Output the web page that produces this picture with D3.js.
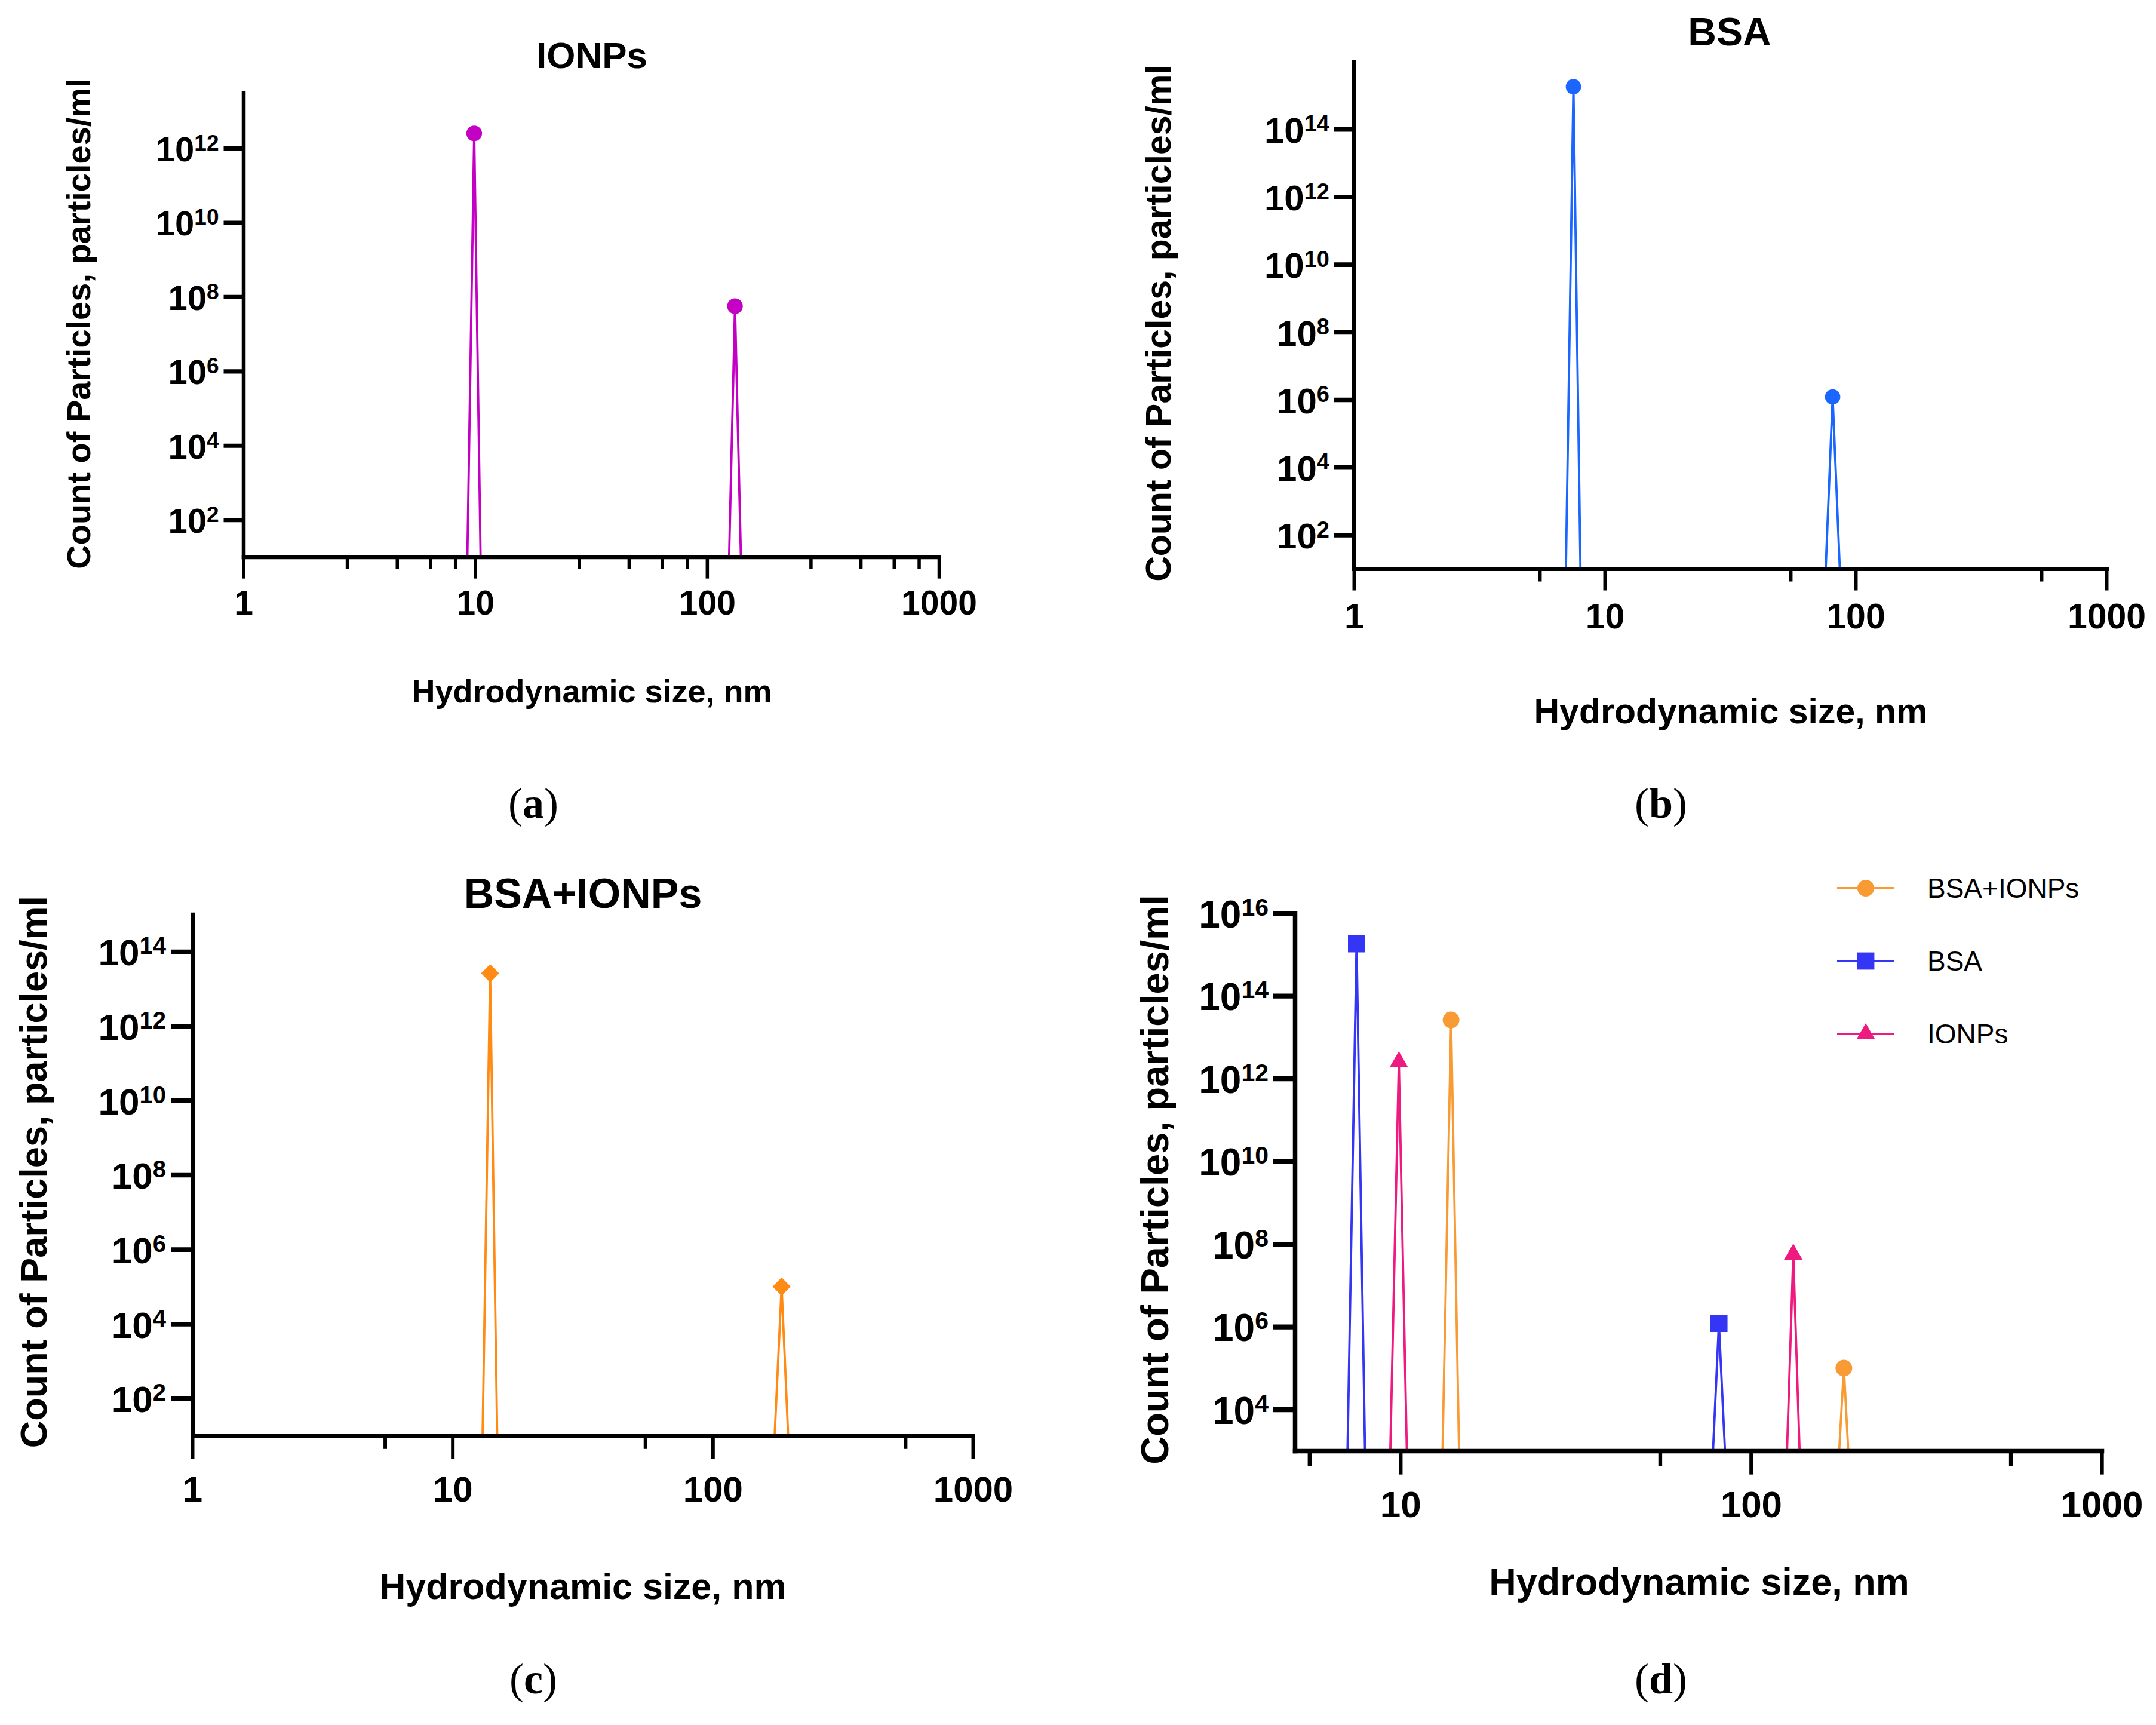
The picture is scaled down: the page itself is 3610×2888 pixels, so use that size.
<!DOCTYPE html>
<html><head><meta charset="utf-8">
<script src="https://cdn.jsdelivr.net/npm/d3@7"></script>
<style>body{margin:0;background:#fff} svg{display:block}</style>
</head><body>
<svg id="chart" width="3610" height="2888"></svg>
<script>
// ---------------- data ----------------
const ionpsSize  = [9.25, 9.9, 10.55, 124.5, 132, 140];
const ionpsCount = [10, 2.5e12, 10, 10, 5.6e7, 10];
const bsaSize    = [7.0, 7.5, 8.0, 76, 81, 86.5];
const bsaCount   = [10, 1.8e15, 10, 10, 1.2e6, 10];
const mixSize    = [13.05, 13.95, 14.85, 173, 184, 195];
const mixCount   = [10, 2.6e13, 10, 10, 1.0e5, 10];

const xMajorABC = [1, 10, 100, 1000];
const xMajorD   = [10, 100, 1000];
const xMinorA   = [2.8, 4.6, 6.4, 8.2, 28, 46, 64, 82, 280, 460, 640, 820];
const xMinorBCD = [5.5, 55, 550];
const yExpA = [2, 4, 6, 8, 10, 12];
const yExpBC = [2, 4, 6, 8, 10, 12, 14];
const yExpD = [4, 6, 8, 10, 12, 14, 16];

const titles = ["IONPs", "BSA", "BSA+IONPs", ""];
const panelLetters = ["a", "b", "c", "d"];
const xTitle = "Hydrodynamic size, nm";
const yTitle = "Count of Particles, particles/ml";
const legendLabels = ["BSA+IONPs", "BSA", "IONPs"];

// ---------------- drawing ----------------
const svg = d3.select("#chart");
svg.append("rect").attr("width", 3610).attr("height", 2888).attr("fill", "#fff");
const SANS = "'Liberation Sans', Arial, Helvetica, sans-serif";
const SERIF = "'Liberation Serif', 'Times New Roman', serif";

const zip = (xs, ys) => xs.map((x, i) => ({x, y: ys[i]}));

const diamond = {draw(ctx, size) { const r = Math.sqrt(size / 2); ctx.moveTo(0, -r); ctx.lineTo(r, 0); ctx.lineTo(0, r); ctx.lineTo(-r, 0); ctx.closePath(); }};

const panels = [
  {x0: 407.5, x1: 1572, yTop: 154.7, yBot: 932.4, xDom: [1, 1000], yDom: [10, Math.pow(10, 13.5)],
   major: xMajorABC, minor: xMinorA, yExp: yExpA,
   tickFs: 58, supFs: 37, xtFs: 57, xlFs: 54, ylFs: 56, tFs: 62, tickLen: 33, minorLen: 17, aw: 6.5,
   xtOff: 97, xlY: 1176, xlX: 991, ylX: 151, ylY: 542, tX: 991, tY: 114, lX: 893, lY: 1369,
   series: [{d: zip(ionpsSize, ionpsCount), color: "#C300C3", sym: d3.symbolCircle, size: 540}]},
  {x0: 2267, x1: 3527, yTop: 103, yBot: 952, xDom: [1, 1000], yDom: [10, 1e16],
   major: xMajorABC, minor: xMinorBCD, yExp: yExpBC,
   tickFs: 60, supFs: 38, xtFs: 59, xlFs: 59, ylFs: 59, tFs: 66, tickLen: 33, minorLen: 18, aw: 7,
   xtOff: 100, xlY: 1211, xlX: 2898, ylX: 1960, ylY: 541, tX: 2896, tY: 76, lX: 2781, lY: 1369,
   series: [{d: zip(bsaSize, bsaCount), color: "#1A66FF", sym: d3.symbolCircle, size: 520}]},
  {x0: 322, x1: 1629, yTop: 1530.7, yBot: 2403.3, xDom: [1, 1000], yDom: [10, 1e15],
   major: xMajorABC, minor: xMinorBCD, yExp: yExpBC,
   tickFs: 62, supFs: 40, xtFs: 60, xlFs: 61, ylFs: 63, tFs: 70, tickLen: 36, minorLen: 19, aw: 7,
   xtOff: 111, xlY: 2677, xlX: 976, ylX: 78, ylY: 1962, tX: 976, tY: 1520, lX: 893, lY: 2835,
   series: [{d: zip(mixSize, mixCount), color: "#FF8A14", sym: diamond, size: 460}]},
  {x0: 2168, x1: 3519, yTop: 1528.5, yBot: 2428.9, xDom: [5, 1000], yDom: [1e3, 1e16],
   major: xMajorD, minor: xMinorBCD, yExp: yExpD,
   tickFs: 64, supFs: 41, xtFs: 62, xlFs: 63, ylFs: 65, tFs: 70, tickLen: 36, minorLen: 22, aw: 7.5,
   xtOff: 111, xlY: 2670, xlX: 2845, ylX: 1956, ylY: 1975, tX: 2845, tY: 1500, lX: 2781, lY: 2835,
   series: [
     {d: zip(bsaSize, bsaCount), color: "#3535F5", sym: d3.symbolSquare, size: 830},
     {d: zip(ionpsSize, ionpsCount), color: "#EE1A7F", sym: d3.symbolTriangle, size: 420},
     {d: zip(mixSize, mixCount), color: "#F99B35", sym: d3.symbolCircle, size: 615}
   ],
   legend: true}
];

panels.forEach((p, pi) => {
  const g = svg.append("g");
  const x = d3.scaleLog().domain(p.xDom).range([p.x0, p.x1]);
  const y = d3.scaleLog().domain(p.yDom).range([p.yBot, p.yTop]);

  const clipId = "clip" + pi;
  g.append("clipPath").attr("id", clipId).append("rect")
    .attr("x", p.x0).attr("y", p.yTop - 30).attr("width", p.x1 - p.x0).attr("height", p.yBot - p.yTop + 30);

  const line = d3.line().x(d => x(d.x)).y(d => y(d.y));
  const plot = g.append("g").attr("clip-path", `url(#${clipId})`);
  p.series.forEach(s => {
    plot.append("path").datum(s.d).attr("d", line)
      .attr("fill", "none").attr("stroke", s.color).attr("stroke-width", 3.8).attr("stroke-linejoin", "miter");
  });
  p.series.forEach(s => {
    g.selectAll(null).data(s.d.filter(d => d.y > p.yDom[0])).enter().append("path")
      .attr("d", d3.symbol().type(s.sym).size(s.size))
      .attr("transform", d => `translate(${x(d.x)},${y(d.y)})`)
      .attr("fill", s.color);
  });

  // minor x ticks
  const gm = g.append("g").attr("transform", `translate(0,${p.yBot})`)
    .call(d3.axisBottom(x).tickValues(p.minor).tickSize(p.minorLen + p.aw / 2).tickSizeOuter(0).tickFormat(""));
  gm.select(".domain").remove();
  gm.selectAll("line").attr("stroke", "#000").attr("stroke-width", p.aw * 0.85);

  // major x axis
  const gx = g.append("g").attr("transform", `translate(0,${p.yBot})`)
    .call(d3.axisBottom(x).tickValues(p.major).tickSize(p.tickLen + p.aw / 2).tickSizeOuter(0).tickFormat(d3.format("d")));
  gx.select(".domain").attr("stroke", "#000").attr("stroke-width", p.aw).attr("stroke-linecap", "square");
  gx.selectAll("line").attr("stroke", "#000").attr("stroke-width", p.aw * 0.85);
  gx.selectAll("text").attr("y", p.xtOff).attr("dy", 0)
    .attr("font-family", SANS).attr("font-weight", "bold").attr("font-size", p.xtFs).attr("fill", "#000");

  // y axis
  const gy = g.append("g").attr("transform", `translate(${p.x0},0)`)
    .call(d3.axisLeft(y).tickValues(p.yExp.map(e => Math.pow(10, e))).tickSize(p.tickLen).tickSizeOuter(0).tickPadding(8));
  gy.select(".domain").attr("stroke", "#000").attr("stroke-width", p.aw).attr("stroke-linecap", "square");
  gy.selectAll("line").attr("stroke", "#000").attr("stroke-width", p.aw * 1.1);
  gy.selectAll("text").each(function(d) {
    const t = d3.select(this);
    t.text(null).attr("dy", 0).attr("y", p.tickFs * 0.37)
      .attr("font-family", SANS).attr("font-weight", "bold").attr("fill", "#000").attr("text-anchor", "end");
    t.append("tspan").attr("font-size", p.tickFs).text("10");
    t.append("tspan").attr("font-size", p.supFs).attr("dy", -p.tickFs * 0.31).text(Math.round(Math.log10(d)));
  });

  // axis titles
  g.append("text").attr("x", p.xlX).attr("y", p.xlY).attr("text-anchor", "middle")
    .attr("font-family", SANS).attr("font-weight", "bold").attr("font-size", p.xlFs).text(xTitle);
  g.append("text").attr("transform", `translate(${p.ylX},${p.ylY}) rotate(-90)`).attr("text-anchor", "middle")
    .attr("font-family", SANS).attr("font-weight", "bold").attr("font-size", p.ylFs).text(yTitle);
  if (titles[pi]) {
    g.append("text").attr("x", p.tX).attr("y", p.tY).attr("text-anchor", "middle")
      .attr("font-family", SANS).attr("font-weight", "bold").attr("font-size", p.tFs).text(titles[pi]);
  }
  // panel letter
  const lt = g.append("text").attr("x", p.lX).attr("y", p.lY).attr("text-anchor", "middle")
    .attr("font-family", SERIF).attr("font-size", 72);
  lt.append("tspan").text("(");
  lt.append("tspan").attr("font-weight", "bold").text(panelLetters[pi]);
  lt.append("tspan").text(")");

  if (p.legend) {
    const order = [2, 0, 1];
    const rows = [1487, 1609, 1731];
    order.forEach((si, k) => {
      const s = p.series[si];
      const lg = g.append("g").attr("transform", `translate(0,${rows[k]})`);
      lg.append("line").attr("x1", 3076).attr("x2", 3172).attr("y1", 0).attr("y2", 0)
        .attr("stroke", s.color).attr("stroke-width", 4);
      lg.append("path").attr("d", d3.symbol().type(s.sym).size(s.size))
        .attr("transform", "translate(3124,0)").attr("fill", s.color);
      lg.append("text").attr("x", 3227).attr("y", 16).attr("font-family", SANS)
        .attr("font-size", 46).attr("fill", "#000").text(legendLabels[k]);
    });
  }
});
</script>
</body></html>
